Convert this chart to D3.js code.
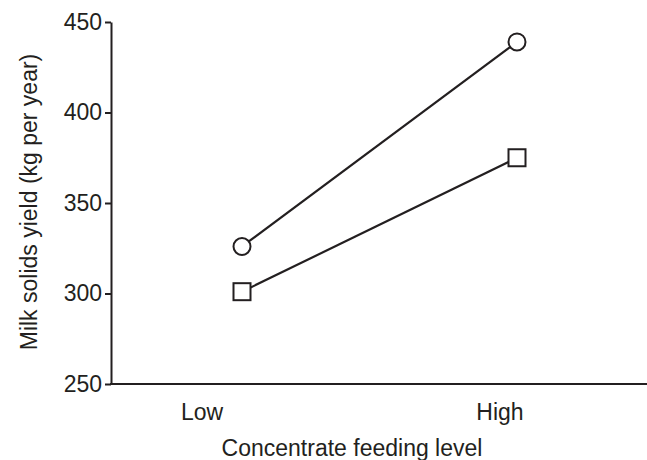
<!DOCTYPE html>
<html>
<head>
<meta charset="utf-8">
<script src="https://cdn.jsdelivr.net/npm/d3@7"></script>
<style>
  body { margin: 0; background: #fff; }
  svg { display: block; font-family: "Liberation Sans", Arial, Helvetica, sans-serif; }
</style>
</head>
<body>
<div id="chart"></div>
<script>
// data
const levels = ["Low", "High"];
const circleSeries = [326, 439];
const squareSeries = [301, 375];
const yTicks = [250, 300, 350, 400, 450];

const width = 647, height = 460;
const ink = "#231f20";

const svg = d3.select("#chart")
  .append("svg")
  .attr("width", width)
  .attr("height", height);

const y = d3.scaleLinear().domain([250, 450]).range([384, 22]);
// markers and category labels do not sit on the same x in the original
const xMark = d3.scalePoint().domain(levels).range([242, 517]);
const xLabel = d3.scalePoint().domain(levels).range([202, 500]);

// y axis
const yAxis = svg.append("g")
  .attr("transform", "translate(111,0)")
  .call(d3.axisLeft(y).tickValues(yTicks).tickSize(6).tickPadding(3).tickSizeOuter(0));
yAxis.select(".domain").attr("stroke", ink).attr("stroke-width", 2);
yAxis.selectAll(".tick line").attr("stroke", ink).attr("stroke-width", 2);
yAxis.selectAll(".tick text")
  .attr("fill", ink)
  .style("font-size", "23px")
  .style("font-family", "'Liberation Sans', Arial, sans-serif");

// x axis line runs to the right edge, no ticks
svg.append("line")
  .attr("x1", 110).attr("x2", width)
  .attr("y1", y(250)).attr("y2", y(250))
  .attr("stroke", ink).attr("stroke-width", 2);

svg.selectAll(".xlab")
  .data(levels)
  .join("text")
  .attr("class", "xlab")
  .attr("x", d => xLabel(d))
  .attr("y", 420)
  .attr("text-anchor", "middle")
  .attr("fill", ink)
  .style("font-size", "23px")
  .text(d => d);

svg.append("text")
  .attr("x", 352)
  .attr("y", 456)
  .attr("text-anchor", "middle")
  .attr("fill", ink)
  .style("font-size", "23px")
  .text("Concentrate feeding level");

svg.append("text")
  .attr("transform", "translate(37,202) rotate(-90)")
  .attr("text-anchor", "middle")
  .attr("fill", ink)
  .style("font-size", "23px")
  .text("Milk solids yield (kg per year)");

const line = d3.line()
  .x((d, i) => xMark(levels[i]))
  .y(d => y(d));

[circleSeries, squareSeries].forEach(s => {
  svg.append("path")
    .datum(s)
    .attr("d", line)
    .attr("fill", "none")
    .attr("stroke", ink)
    .attr("stroke-width", 2.2);
});

svg.selectAll(".circ")
  .data(circleSeries)
  .join("circle")
  .attr("class", "circ")
  .attr("cx", (d, i) => xMark(levels[i]))
  .attr("cy", d => y(d))
  .attr("r", 8.5)
  .attr("fill", "#fff")
  .attr("stroke", ink)
  .attr("stroke-width", 2);

const side = 17;
svg.selectAll(".sq")
  .data(squareSeries)
  .join("rect")
  .attr("class", "sq")
  .attr("x", (d, i) => xMark(levels[i]) - side / 2)
  .attr("y", d => y(d) - side / 2)
  .attr("width", side)
  .attr("height", side)
  .attr("fill", "#fff")
  .attr("stroke", ink)
  .attr("stroke-width", 2);
</script>
</body>
</html>
